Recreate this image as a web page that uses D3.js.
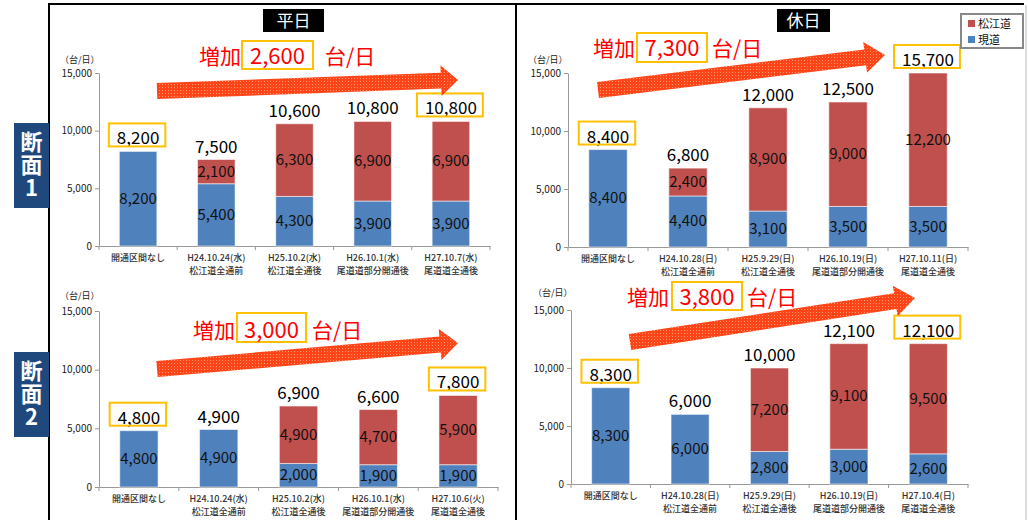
<!DOCTYPE html>
<meta charset="utf-8">
<head>
  <script src="https://d3js.org/d3.v7.min.js"></script>
  <style>
    body { margin: 0; background: #fff; }
    svg text { font-family: "Noto Sans CJK JP", "Noto Sans", sans-serif; }
    .vert { writing-mode: vertical-rl; text-orientation: upright; }
  </style>
</head>
<body>
<svg id="chart" width="1028" height="520"></svg>
<script>
  // ============================== DATA ==============================
  var weekdayDates1 = ["開通区間なし", "H24.10.24(水)", "H25.10.2(水)", "H26.10.1(水)", "H27.10.7(水)"]
  var weekdayDates2 = ["開通区間なし", "H24.10.24(水)", "H25.10.2(水)", "H26.10.1(水)", "H27.10.6(火)"]
  var holidayDates1 = ["開通区間なし", "H24.10.28(日)", "H25.9.29(日)", "H26.10.19(日)", "H27.10.11(日)"]
  var holidayDates2 = ["開通区間なし", "H24.10.28(日)", "H25.9.29(日)", "H26.10.19(日)", "H27.10.4(日)"]
  var stageNames = ["", "松江道全通前", "松江道全通後", "尾道道部分開通後", "尾道道全通後"]

  // 現道 (existing road) and 松江道 (expressway), 台/日
  var genWeekday1 = [8200, 5400, 4300, 3900, 3900]
  var matsueWeekday1 = [0, 2100, 6300, 6900, 6900]
  var genHoliday1 = [8400, 4400, 3100, 3500, 3500]
  var matsueHoliday1 = [0, 2400, 8900, 9000, 12200]
  var genWeekday2 = [4800, 4900, 2000, 1900, 1900]
  var matsueWeekday2 = [0, 0, 4900, 4700, 5900]
  var genHoliday2 = [8300, 6000, 2800, 3000, 2600]
  var matsueHoliday2 = [0, 0, 7200, 9100, 9500]

  var increaseWeekday1 = 2600, increaseHoliday1 = 7300
  var increaseWeekday2 = 3000, increaseHoliday2 = 3800

  var yTicks = [0, 5000, 10000, 15000]
  var yMax = 15000
  var legendNames = ["松江道", "現道"]
  var sectionNames = ["断面1", "断面2"]

  var blue = "#4F81BD", red = "#C0504D", gold = "#FFC000"
  var fmt = d3.format(",")

  // ============================== LAYOUT ==============================
  var panels = [
    {dates: weekdayDates1, gen: genWeekday1, matsue: matsueWeekday1, inc: increaseWeekday1,
     x0: 99, x1: 490, yTop: 73, yBot: 246, unitY: 63, unitX: 60,
     incX: 199, incY: 64, boxX: 242, boxW: 71, boxTop: 41, boxH: 28, unitTextX: 325,
     tail: [157, 91], tip: [458, 80], headL: 17},
    {dates: holidayDates1, gen: genHoliday1, matsue: matsueHoliday1, inc: increaseHoliday1,
     x0: 568, x1: 968, yTop: 73, yBot: 247, unitY: 63, unitX: 528,
     incX: 593, incY: 56, boxX: 637, boxW: 70, boxTop: 33, boxH: 29, unitTextX: 712,
     tail: [598, 90], tip: [885, 55], headL: 20},
    {dates: weekdayDates2, gen: genWeekday2, matsue: matsueWeekday2, inc: increaseWeekday2,
     x0: 99, x1: 498, yTop: 311, yBot: 487, unitY: 299, unitX: 60,
     incX: 193, incY: 338, boxX: 237, boxW: 69, boxTop: 313, boxH: 29, unitTextX: 312,
     tail: [157, 369], tip: [458, 343], headL: 18},
    {dates: holidayDates2, gen: genHoliday2, matsue: matsueHoliday2, inc: increaseHoliday2,
     x0: 571, x1: 968, yTop: 310, yBot: 484, unitY: 296, unitX: 533,
     incX: 627, incY: 305, boxX: 672, boxW: 70, boxTop: 282, boxH: 28, unitTextX: 747,
     tail: [630, 342], tip: [915, 298], headL: 20}
  ]

  var svg = d3.select("#chart")

  // dotted orange-red texture for the arrows
  var defs = svg.append("defs")
  var pat = defs.append("pattern")
    .attr("id", "dots").attr("patternUnits", "userSpaceOnUse")
    .attr("width", 3).attr("height", 3)
  pat.append("rect").attr("width", 3).attr("height", 3).attr("fill", "#FF4418")
  pat.append("rect").attr("width", 1).attr("height", 1).attr("fill", "#FF9C78")

  // ============================== FRAME ==============================
  svg.append("line").attr("x1", 49).attr("x2", 1024).attr("y1", 4).attr("y2", 4)
    .attr("stroke", "#000").attr("stroke-width", 2)
  svg.append("line").attr("x1", 49).attr("x2", 49).attr("y1", 3).attr("y2", 520)
    .attr("stroke", "#000").attr("stroke-width", 2)
  svg.append("line").attr("x1", 516).attr("x2", 516).attr("y1", 3).attr("y2", 520)
    .attr("stroke", "#000").attr("stroke-width", 2)
  svg.append("line").attr("x1", 1026).attr("x2", 1026).attr("y1", 5).attr("y2", 520)
    .attr("stroke", "#BBB").attr("stroke-width", 1)

  // titles
  function titleBox(label, x, w) {
    svg.append("rect").attr("x", x).attr("y", 9).attr("width", w).attr("height", 23).attr("fill", "#000")
    svg.append("text").attr("x", x + w / 2).attr("y", 27).attr("text-anchor", "middle")
      .attr("fill", "#fff").attr("font-size", 17).text(label)
  }
  titleBox("平日", 263, 61)
  titleBox("休日", 777, 53)

  // 断面 labels on the left, written vertically
  function sectionLabel(label, top) {
    svg.append("rect").attr("x", 14).attr("y", top).attr("width", 35).attr("height", 85).attr("fill", "#1F497D")
    svg.append("text").attr("class", "vert").attr("x", 31.5).attr("y", top + 8)
      .attr("fill", "#fff").attr("font-size", 22).attr("font-weight", "bold")
      .attr("letter-spacing", 1).text(label)
  }
  sectionLabel(sectionNames[0], 123)
  sectionLabel(sectionNames[1], 352)

  // ============================== PANELS ==============================
  function arrowPath(tail, tip, shaftW, headL, headW) {
    var dx = tip[0] - tail[0], dy = tip[1] - tail[1]
    var len = Math.sqrt(dx * dx + dy * dy)
    var ux = dx / len, uy = dy / len, nx = -uy, ny = ux
    var bx = tip[0] - ux * headL, by = tip[1] - uy * headL
    var pts = [
      [tail[0] + nx * shaftW / 2, tail[1] + ny * shaftW / 2],
      [bx + nx * shaftW / 2, by + ny * shaftW / 2],
      [bx + nx * headW / 2, by + ny * headW / 2],
      tip,
      [bx - nx * headW / 2, by - ny * headW / 2],
      [bx - nx * shaftW / 2, by - ny * shaftW / 2],
      [tail[0] - nx * shaftW / 2, tail[1] - ny * shaftW / 2]
    ]
    return "M" + pts.map(function(p) { return p[0] + "," + p[1] }).join("L") + "Z"
  }

  function drawPanel(p) {
    var g = svg.append("g")
    var rows = p.dates.map(function(d, i) {
      return {cat: d, stage: stageNames[i], gen: p.gen[i], matsue: p.matsue[i]}
    })

    var x = d3.scaleBand().domain(p.dates).range([p.x0, p.x1])
    var y = d3.scaleLinear().domain([0, yMax]).range([p.yBot, p.yTop]).clamp(true)
    var barW = x.bandwidth() * 0.48

    // y axis
    var yAxis = g.append("g").attr("transform", "translate(" + p.x0 + ",0)")
      .call(d3.axisLeft(y).tickValues(yTicks).tickFormat(fmt).tickSize(4).tickSizeOuter(0))
    yAxis.select(".domain").attr("stroke", "#999")
    yAxis.selectAll(".tick line").attr("stroke", "#999")
    yAxis.selectAll(".tick text").attr("font-size", 10).attr("fill", "#222")
      .attr("font-family", "'Noto Sans', sans-serif").attr("x", -7)

    g.append("text").attr("x", p.unitX).attr("y", p.unitY).attr("font-size", 9).attr("fill", "#222")
      .text("（台/日）")

    // x axis line and category boundary ticks
    var xAxis = g.append("g").attr("transform", "translate(0," + p.yBot + ")")
      .call(d3.axisBottom(x).tickSize(0).tickSizeOuter(0).tickFormat(""))
    xAxis.select(".domain").attr("stroke", "#999")
    var bounds = p.dates.map(function(d) { return x(d) }).concat([x.range()[1]])
    g.selectAll(".btick").data(bounds).enter().append("line")
      .attr("x1", function(d) { return d }).attr("x2", function(d) { return d })
      .attr("y1", p.yBot).attr("y2", p.yBot + 4).attr("stroke", "#999")

    // category labels
    var labels = g.selectAll(".cat").data(rows).enter().append("text")
      .attr("text-anchor", "middle").attr("font-size", 9).attr("fill", "#333").attr("font-weight", 500)
    labels.append("tspan")
      .attr("x", function(d) { return x(d.cat) + x.bandwidth() / 2 })
      .attr("y", p.yBot + 15).text(function(d) { return d.cat })
    labels.append("tspan")
      .attr("x", function(d) { return x(d.cat) + x.bandwidth() / 2 })
      .attr("y", p.yBot + 28).text(function(d) { return d.stage })

    // stacked bars
    var stack = d3.stack().keys(["gen", "matsue"])(rows)
    var colors = {gen: blue, matsue: red}
    stack.forEach(function(layer) {
      g.selectAll(".bar-" + layer.key).data(layer).enter().append("rect")
        .attr("x", function(d) { return x(d.data.cat) + (x.bandwidth() - barW) / 2 })
        .attr("y", function(d) { return y(d[1]) })
        .attr("width", barW)
        .attr("height", function(d) { return y(d[0]) - y(d[1]) })
        .attr("fill", colors[layer.key])
        .attr("stroke", "rgba(255,255,255,0.55)").attr("stroke-width", 1)

      g.selectAll(".lab-" + layer.key).data(layer.filter(function(d) { return d[1] - d[0] > 0 }))
        .enter().append("text")
        .attr("x", function(d) { return x(d.data.cat) + x.bandwidth() / 2 })
        .attr("y", function(d) { return (y(d[0]) + y(d[1])) / 2 + 5 })
        .attr("text-anchor", "middle").attr("font-size", 15).attr("fill", "#111")
        .text(function(d) { return fmt(d[1] - d[0]) })
    })

    // totals above bars, first and last boxed
    rows.forEach(function(r, i) {
      var total = r.gen + r.matsue
      var cx = x(r.cat) + x.bandwidth() / 2
      var by = y(total) - 7
      var t = g.append("text").attr("x", cx).attr("y", by).attr("text-anchor", "middle")
        .attr("font-size", 17).attr("fill", "#000").text(fmt(total))
      if (i == 0 || i == rows.length - 1) {
        var w = t.node().getComputedTextLength() + 14
        g.append("rect").attr("x", cx - w / 2 - 1).attr("y", by - 21).attr("width", w).attr("height", 23)
          .attr("fill", "none").attr("stroke", gold).attr("stroke-width", 2)
      }
    })

    // arrow
    g.append("path").attr("d", arrowPath(p.tail, p.tip, 16, p.headL, 31)).attr("fill", "url(#dots)")

    // 増加 annotation
    g.append("text").attr("x", p.incX).attr("y", p.incY).attr("font-size", 21).attr("fill", "#FF0000").text("増加")
    g.append("rect").attr("x", p.boxX).attr("y", p.boxTop).attr("width", p.boxW).attr("height", p.boxH)
      .attr("fill", "#fff").attr("stroke", gold).attr("stroke-width", 2)
    g.append("text").attr("x", p.boxX + p.boxW / 2).attr("y", p.incY).attr("text-anchor", "middle")
      .attr("font-size", 22).attr("fill", "#FF0000").text(fmt(p.inc))
    g.append("text").attr("x", p.unitTextX).attr("y", p.incY).attr("font-size", 21).attr("fill", "#FF0000").text("台/日")
  }

  panels.forEach(drawPanel)

  // ============================== LEGEND ==============================
  var legend = svg.append("g")
  legend.append("rect").attr("x", 961).attr("y", 14).attr("width", 62).attr("height", 34)
    .attr("fill", "#fff").attr("stroke", "#888").attr("stroke-width", 2)
  var items = legend.selectAll(".leg").data(legendNames).enter().append("g")
    .attr("transform", function(d, i) { return "translate(968," + (20 + i * 16) + ")" })
  items.append("rect").attr("width", 7).attr("height", 7)
    .attr("fill", function(d, i) { return i == 0 ? red : blue })
  items.append("text").attr("x", 10).attr("y", 8).attr("font-size", 11).attr("fill", "#111")
    .text(function(d) { return d })
</script>
</body>
